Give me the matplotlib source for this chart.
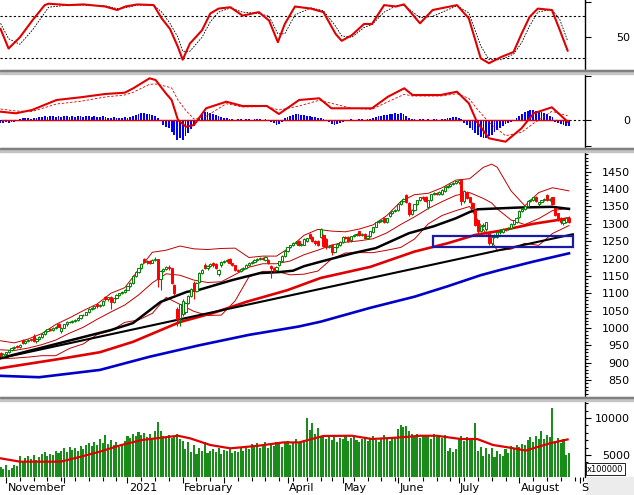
import matplotlib.pyplot as plt
from matplotlib.patches import Rectangle
from matplotlib.transforms import blended_transform_factory
import pandas as pd

# trading calendar, HOSE holidays removed
holidays = ['2021-01-01', '2021-02-10', '2021-02-11', '2021-02-12', '2021-02-15', '2021-02-16',
            '2021-04-21', '2021-04-30', '2021-05-03', '2021-09-02', '2021-09-03']
days = pd.bdate_range('2020-10-29', '2021-09-10')
days = days[~days.isin(pd.to_datetime(holidays))]

opens = [928, 920, 925, 930, 935, 942, 947, 944, 966, 958,
         963, 967, 978, 962, 968, 975, 982, 992, 997, 994,
         1000, 1012, 990, 1001, 1010, 1017, 1018, 1020, 1024, 1030,
         1036, 1038, 1045, 1055, 1058, 1068, 1062, 1066, 1090, 1082,
         1090, 1074, 1085, 1095, 1100, 1104, 1110, 1120, 1130, 1150,
         1162, 1172, 1200, 1190, 1193, 1188, 1197, 1198, 1140, 1165,
         1170, 1176, 1172, 1124, 1055, 1030, 1040, 1045, 1072, 1092,
         1130, 1106, 1132, 1158, 1182, 1172, 1178, 1188, 1184, 1155,
         1180, 1190, 1192, 1198, 1186, 1180, 1168, 1165, 1170, 1172,
         1182, 1188, 1190, 1196, 1200, 1202, 1196, 1196, 1178, 1174,
         1168, 1180, 1192, 1206, 1222, 1232, 1238, 1245, 1250, 1240,
         1240, 1250, 1272, 1262, 1250, 1250, 1262, 1268, 1255, 1232,
         1238, 1220, 1232, 1238, 1248, 1262, 1262, 1252, 1264, 1268,
         1278, 1268, 1270, 1258, 1264, 1276, 1292, 1304, 1308, 1318,
         1306, 1322, 1332, 1336, 1340, 1356, 1366, 1382, 1360, 1328,
         1340, 1356, 1368, 1376, 1378, 1348, 1368, 1385, 1390, 1386,
         1386, 1395, 1406, 1410, 1415, 1418, 1420, 1425, 1365, 1392,
         1376, 1360, 1340, 1310, 1280, 1295, 1284, 1275, 1246, 1262,
         1262, 1276, 1276, 1286, 1284, 1288, 1300, 1306, 1320, 1338,
         1342, 1352, 1366, 1368, 1376, 1356, 1362, 1368, 1382, 1368,
         1376, 1345, 1330, 1318, 1302, 1306, 1318]
highs = [930, 927, 932, 937, 944, 948, 950, 953, 968, 965,
         968, 969, 982, 970, 977, 984, 994, 998, 1000, 1002,
         1006, 1014, 1003, 1012, 1019, 1021, 1023, 1026, 1032, 1038,
         1041, 1047, 1057, 1060, 1064, 1070, 1069, 1080, 1093, 1090,
         1092, 1087, 1097, 1102, 1106, 1112, 1122, 1132, 1152, 1164,
         1174, 1187, 1202, 1195, 1196, 1199, 1203, 1200, 1168, 1173,
         1178, 1180, 1174, 1128, 1060, 1070, 1082, 1076, 1095, 1115,
         1134, 1133, 1160, 1170, 1186, 1181, 1188, 1191, 1186, 1170,
         1193, 1195, 1199, 1201, 1188, 1182, 1170, 1173, 1175, 1184,
         1190, 1193, 1198, 1202, 1205, 1204, 1206, 1198, 1180, 1177,
         1178, 1194, 1210, 1224, 1234, 1240, 1247, 1250, 1252, 1245,
         1258, 1260, 1275, 1264, 1252, 1253, 1288, 1270, 1258, 1240,
         1241, 1234, 1244, 1250, 1265, 1265, 1264, 1266, 1270, 1275,
         1280, 1275, 1273, 1268, 1280, 1292, 1306, 1310, 1314, 1321,
         1318, 1334, 1338, 1342, 1358, 1368, 1375, 1386, 1363, 1343,
         1358, 1370, 1378, 1379, 1380, 1370, 1387, 1391, 1393, 1395,
         1400, 1408, 1412, 1417, 1420, 1424, 1428, 1427, 1398, 1394,
         1378, 1362, 1342, 1312, 1298, 1302, 1306, 1278, 1265, 1271,
         1278, 1284, 1288, 1289, 1290, 1302, 1312, 1320, 1340, 1345,
         1353, 1368, 1373, 1378, 1379, 1364, 1370, 1375, 1385, 1375,
         1378, 1347, 1332, 1321, 1313, 1319, 1322]
lows = [916, 917, 922, 927, 933, 939, 941, 942, 955, 955,
        960, 961, 960, 958, 965, 972, 980, 988, 990, 991,
        997, 1002, 984, 999, 1007, 1013, 1015, 1017, 1021, 1027,
        1033, 1036, 1043, 1051, 1055, 1058, 1059, 1064, 1079, 1078,
        1055, 1071, 1083, 1092, 1097, 1101, 1108, 1118, 1128, 1147,
        1159, 1170, 1186, 1184, 1185, 1186, 1194, 1118, 1110, 1162,
        1167, 1168, 1126, 1096, 1005, 1005, 1035, 1040, 1070, 1090,
        1082, 1103, 1129, 1155, 1169, 1168, 1175, 1177, 1171, 1150,
        1177, 1186, 1189, 1183, 1178, 1165, 1160, 1162, 1166, 1170,
        1179, 1185, 1187, 1193, 1197, 1195, 1194, 1185, 1145, 1162,
        1165, 1178, 1190, 1204, 1219, 1229, 1235, 1242, 1237, 1236,
        1238, 1247, 1255, 1247, 1240, 1237, 1260, 1232, 1228, 1229,
        1210, 1216, 1229, 1235, 1246, 1255, 1247, 1249, 1261, 1265,
        1265, 1265, 1257, 1255, 1262, 1274, 1290, 1301, 1305, 1303,
        1303, 1320, 1329, 1333, 1338, 1353, 1363, 1359, 1322, 1325,
        1337, 1353, 1365, 1370, 1364, 1344, 1366, 1382, 1383, 1383,
        1383, 1392, 1403, 1407, 1412, 1414, 1416, 1355, 1360, 1371,
        1359, 1342, 1294, 1272, 1276, 1290, 1280, 1240, 1236, 1258,
        1259, 1272, 1273, 1280, 1281, 1285, 1297, 1303, 1317, 1335,
        1339, 1349, 1363, 1365, 1363, 1352, 1359, 1365, 1366, 1365,
        1353, 1323, 1309, 1300, 1298, 1302, 1302]
closes = [920, 925, 930, 935, 942, 946, 944, 951, 958, 963,
          966, 964, 962, 968, 975, 982, 992, 996, 994, 1000,
          1003, 1004, 1000, 1010, 1017, 1018, 1020, 1024, 1030, 1036,
          1038, 1045, 1055, 1058, 1062, 1062, 1066, 1078, 1082, 1088,
          1074, 1085, 1095, 1100, 1104, 1110, 1120, 1130, 1150, 1162,
          1172, 1185, 1190, 1192, 1188, 1197, 1200, 1140, 1165, 1170,
          1176, 1172, 1130, 1100, 1025, 1068, 1078, 1072, 1092, 1112,
          1106, 1130, 1158, 1168, 1172, 1178, 1185, 1180, 1174, 1168,
          1190, 1192, 1196, 1186, 1182, 1168, 1165, 1170, 1172, 1182,
          1188, 1190, 1196, 1200, 1202, 1198, 1204, 1188, 1172, 1168,
          1176, 1192, 1208, 1222, 1232, 1238, 1245, 1248, 1240, 1242,
          1256, 1258, 1258, 1250, 1245, 1240, 1285, 1235, 1232, 1236,
          1218, 1232, 1242, 1248, 1262, 1258, 1250, 1264, 1268, 1272,
          1268, 1272, 1260, 1266, 1278, 1290, 1304, 1308, 1312, 1306,
          1316, 1332, 1336, 1340, 1356, 1366, 1372, 1362, 1328, 1340,
          1356, 1368, 1376, 1374, 1366, 1368, 1385, 1388, 1386, 1392,
          1398, 1406, 1410, 1415, 1418, 1422, 1426, 1365, 1395, 1374,
          1362, 1345, 1298, 1278, 1295, 1298, 1304, 1246, 1262, 1268,
          1276, 1280, 1286, 1284, 1286, 1300, 1310, 1318, 1338, 1342,
          1350, 1366, 1370, 1376, 1366, 1362, 1368, 1372, 1368, 1372,
          1356, 1326, 1312, 1305, 1310, 1316, 1306]
volumes = [3400, 3100, 3600, 3000, 3300, 3700, 3500,
           4800, 4200, 4600, 4900, 4400, 5000, 4300,
           4700, 5100, 5400, 4800, 5200, 5000, 5500, 5300, 5600,
           5900, 5400, 6100, 5700, 6000, 5500, 6200, 5800, 6400, 6600,
           6200, 6800, 6400, 7100, 6600, 7700, 6500, 7000,
           6300, 6700, 6100, 6500, 6900,
           7600, 7300, 7900, 7500, 8100, 7700, 8000, 7400, 7800, 7300, 8200,
           9500,
           8300, 7600, 7400, 7700, 7300, 7500, 7900, 7200,
           6900, 5800, 6800, 5400, 6300, 5100, 5900, 5600, 6800, 5300, 5500,
           5800, 5400, 5900, 5200, 5700, 5500, 5800, 5300, 5600, 5400, 5900, 5500,
           6200, 5800, 6500, 6100, 6600, 6000, 6300, 6700, 5900, 6400, 6200, 6800, 6500, 6100,
           6600, 6900, 6400, 6800, 7100, 6600, 6900, 7000,
           9950, 8400, 9300, 7800, 8600, 7400,
           7600, 7200, 7700, 7000, 7400, 6800, 7300, 7100,
           7500, 6900, 7300, 7600, 7000, 6800, 7200, 7400, 6900, 7100,
           7500, 7000, 6800, 7300, 7700, 7200, 6900, 7100, 7400,
           8500, 9100, 8800, 8900, 8300,
           7900, 7400, 7800, 7300, 7600, 7500, 7700, 7200, 7900, 7400, 7600, 7300, 7700,
           5600, 6000, 5400, 5800,
           7200, 7500, 6900, 7400, 7100, 7300,
           9300,
           5600, 6100, 4800, 5900, 5200, 6000, 4700, 5500, 5100, 4900, 5800, 5300,
           6200, 5900, 6400, 6100, 6500, 6300,
           7000, 7400, 6800, 7600, 7200, 8300, 7100, 7700, 7400,
           11400,
           6900, 7300, 6600, 7100, 5000, 5300]
macd_hist = [-3, -3, -2, -3, -2, -2, -1,
             1, 2, 2, 2, 1, 2, 2, 3,
             3, 4, 3, 4, 4, 3, 4, 3, 4, 4, 3, 4, 3, 4, 4,
             3, 4, 4, 3, 4, 3, 3, 4, 3, 2, 2, 3, 2, 2, 2, 3, 2,
             3, 4, 5, 6, 7, 7, 6, 6, 5, 4,
             2, -1,
             -5, -7, -8, -12, -15, -20, -18,
             -20, -16, -13, -9, -6, -3, 2,
             6, 8, 8, 7, 6, 5, 4, 3, 2, 2,
             1, 1, 0, 1, 1, 0, 1, 1, 0, 1, 1, 1, 0, 1, 0,
             -2, -3, -5, -4, -2,
             2, 3, 4, 5, 6, 6, 5, 5, 4, 4, 3, 3, 2, 2, 1,
             -1, -2, -4, -5, -4, -3, -2,
             -1, 0, 1, 0, -1, 1, 1, 0, 1, 1, 2,
             3, 4, 4, 5, 5, 6, 6, 7, 6, 7, 6, 4, 2, 1,
             1, 0, 1, 1, 0, 1, 0, 1, 1, 0, 1, 1, 2,
             2, 3, 3, 2, 1,
             -3, -5, -8, -10, -13, -15, -17, -18, -18, -16, -15, -12, -10, -8, -6, -4, -3, -2, -1,
             2, 4, 6, 8, 9, 10, 10, 9, 9, 8, 7, 6, 4, 3,
             -2, -3, -4, -5, -6, -6]

macd_idx = [0, 5.6, 11.4, 20.3, 29, 37.9, 45, 48.1, 54, 56.2, 59.9, 62, 64.3, 67.2, 70.1, 74.5,
            81.8, 87.7, 96.5, 100.9, 108.2, 115.5, 119.9, 127.3, 134.6, 140.4, 146.3, 149.3,
            159.5, 165.4, 169.7, 172.6, 177, 183, 188.8, 193.2, 199.8, 205.5]
macd_line = [8.3, 6.7, 10, 20, 22.7, 26, 27.3, 31.7, 41.7, 40, 26.7, 20, 0, -6.7, -5, 11.7,
             18.3, 14, 14, 6, 20, 21.7, 11.7, 11.7, 11.7, 23.3, 31.7, 25,
             25, 28.3, 16.7, -1.7, -18.3, -21.7, -8.3, 6.7, 12.7, -1.7]
macd_signal = [11, 9, 8.5, 16, 18.7, 23, 25, 27.7, 35.7, 36, 33.7, 32, 20, 9.3, 1, 3.7,
               16.3, 13, 13.5, 10, 14, 19.7, 16.7, 11.7, 10.7, 18.3, 25.7, 24,
               24, 26.3, 21.7, 11.3, -2.3, -15.7, -12.3, -3.3, 8.7, 4.3]

stoch_idx = [0, 2.9, 7, 11.5, 16, 17.4, 24.7, 30, 37.9, 42.3, 45.2, 49.6, 55.5, 58.4, 61.4,
             64.3, 66, 68.6, 73, 76, 79, 83.3, 87.7, 93.6, 97.3, 100.5, 103, 106.7, 112.5,
             117, 121.4, 123.6, 127.3, 131.7, 134.6, 139, 143.3, 146.2, 152, 156.6, 165.4,
             169.7, 174, 177, 181.5, 185.9, 188.8, 191.7, 194.7, 199.8, 202.7, 205.5]
stoch_k = [62, 34, 50, 74, 96, 98, 96, 97, 94, 89, 94, 97, 96, 77, 62,
           36, 18, 41, 60, 84, 91, 93, 81, 86, 74, 43, 69, 94, 91,
           86, 55, 45, 53, 69, 69, 96, 94, 97, 70, 89, 96,
           77, 20, 13, 22, 29, 55, 79, 91, 89, 60, 31]
stoch_d = [70, 48, 40, 60, 85, 93, 96, 96, 95, 91, 92, 96, 96, 86, 70,
           50, 30, 30, 50, 72, 86, 92, 86, 84, 80, 55, 55, 82, 92,
           88, 66, 52, 50, 64, 68, 86, 95, 96, 78, 80, 95,
           85, 38, 18, 18, 26, 42, 66, 86, 90, 75, 45]

bb_idx = [0, 5, 10, 15, 20, 25, 30, 35, 40, 45, 50, 55, 60, 65, 70, 75, 80, 85, 90, 95, 100,
          105, 110, 115, 120, 125, 130, 135, 140, 145, 150, 155, 160, 165, 170, 175, 178,
          180, 185, 190, 195, 200, 206]
bb_mid = [937, 935, 942, 952, 965, 985, 1002, 1025, 1046, 1066, 1095, 1130, 1156, 1152, 1138,
          1131, 1133, 1154, 1175, 1185, 1185, 1193, 1211, 1224, 1239, 1247, 1251, 1257, 1274,
          1298, 1320, 1344, 1364, 1382, 1390, 1373, 1360, 1343, 1311, 1298, 1315, 1338, 1345]
bb_upper = [963, 957, 968, 984, 1010, 1029, 1050, 1069, 1100, 1116, 1167, 1218, 1224, 1236, 1228,
            1226, 1229, 1230, 1203, 1207, 1207, 1233, 1267, 1284, 1279, 1277, 1285, 1297, 1324,
            1364, 1384, 1388, 1404, 1426, 1430, 1463, 1472, 1463, 1395, 1352, 1390, 1404, 1395]
bb_lower = [911, 913, 916, 920, 920, 941, 954, 981, 992, 1016, 1023, 1042, 1088, 1068, 1048,
            1036, 1037, 1078, 1147, 1163, 1163, 1153, 1155, 1164, 1199, 1216, 1217, 1217, 1224,
            1232, 1256, 1300, 1324, 1338, 1350, 1283, 1250, 1223, 1227, 1244, 1238, 1272, 1295]

ma_black_idx = [0, 40, 48, 58, 67.5, 72, 84, 94, 101, 106, 110, 116, 128, 136, 148, 157, 165,
                170, 173, 188, 200, 206]
ma_black = [913, 994, 1014, 1075, 1104, 1110, 1138, 1158, 1161, 1165, 1178, 1191, 1216, 1230,
            1273, 1293, 1316, 1334, 1342, 1347, 1349, 1343]
ma_red_idx = [0, 24, 36, 48, 65, 77, 89, 104, 116, 134, 150, 162, 172, 181, 193, 206]
ma_red = [884, 914, 930, 960, 1017, 1043, 1075, 1109, 1144, 1176, 1220, 1244, 1268, 1280, 1300, 1316]
ma_blue_idx = [0, 14, 36, 54, 72, 90, 108, 116, 134, 150, 162, 174, 181, 193, 206]
ma_blue = [862, 858, 879, 917, 950, 980, 1004, 1018, 1058, 1090, 1120, 1152, 1167, 1191, 1215]

trend_idx = [0, 207.4]
trend_val = [913, 1270]
box_idx = [156.7, 207.4]
box_val = [1234, 1265]

vol_ma_idx = [0, 7.1, 21.8, 29.1, 36.4, 43.8, 51.1, 58.4, 64.3, 68.7, 76, 83.3, 93.6, 102.4,
              108.2, 117, 127.3, 134.6, 143.4, 152.2, 158, 166.8, 172.7, 178.5, 184.4, 190.3,
              199.1, 205.5]
vol_ma = [4550, 4100, 4100, 4770, 5500, 6350, 7020, 7340, 7600, 7250, 6350, 5900, 6260, 6700,
          6700, 7570, 7600, 7160, 7340, 7600, 7600, 7160, 7160, 6350, 6000, 5600, 6580, 7100]

W, H = 634, 495
plt.switch_backend('agg')
plt.rcParams['font.family'] = 'DejaVu Sans'
plt.rcParams['font.size'] = 8
fig = plt.figure(figsize=(W / 100, H / 100), dpi=100)
fig.patch.set_facecolor('white')

RED = '#e00000'


def panel(top, bottom):
    ax = fig.add_axes([0, 1 - bottom / H, 585 / W, (bottom - top) / H])
    for s in ['left', 'top', 'bottom']:
        ax.spines[s].set_visible(False)
    ax.spines['right'].set_linewidth(1.0)
    ax.yaxis.tick_right()
    ax.tick_params(axis='y', which='major', length=4.3, width=0.8, pad=28, labelsize=8)
    ax.tick_params(axis='y', which='minor', length=2.2, width=0.8)
    ax.set_xticks([])
    ax.set_xlim(-0.2, 211.8)
    return ax


def right_labels(ax):
    for t in ax.get_yticklabels():
        t.set_horizontalalignment('right')


n = len(closes)
xs = list(range(n))

# stochastic
ax1 = panel(0, 70)
ax1.set_ylim(3.3, 103.3)
ax1.axhline(80, color='k', ls=(0, (2, 2)), lw=0.8)
ax1.axhline(20, color='k', ls=(0, (2, 2)), lw=0.8)
ax1.plot(stoch_idx, stoch_d, color='k', ls=(0, (2, 1.5)), lw=0.6)
ax1.plot(stoch_idx, stoch_k, color=RED, lw=1.5)
ax1.set_yticks([50, 100])
ax1.set_yticklabels(['50', ''])
right_labels(ax1)

# macd
ax2 = panel(73, 148)
ax2.set_ylim(-28, 47)
ax2.bar(xs, macd_hist, width=0.65, color='#0000ff')
ax2.axhline(0, color='k', ls=(0, (2, 2)), lw=0.8)
ax2.hlines(0, 0, n - 1, color=RED, lw=1)
ax2.plot(macd_idx, macd_signal, color=RED, ls=(0, (3, 2)), lw=0.6)
ax2.plot(macd_idx, macd_line, color=RED, lw=1.5)
ax2.set_yticks([-26, 0, 44])
ax2.set_yticklabels(['', '0', ''])
right_labels(ax2)

# price
ax3 = panel(152, 397)
ax3.set_ylim(801, 1507)
ax3.set_yticks(range(850, 1451, 50))
ax3.set_yticks(range(810, 1501, 10), minor=True)
right_labels(ax3)
for band in [bb_upper, bb_mid, bb_lower]:
    ax3.plot(bb_idx, band, color='#c00000', lw=0.7)
ax3.plot(ma_blue_idx, ma_blue, color='#0000c8', lw=1.9)
ax3.plot(ma_red_idx, ma_red, color=RED, lw=1.9)
ax3.plot(trend_idx, trend_val, color='k', lw=1.5)
ax3.plot(ma_black_idx, ma_black, color='k', lw=1.8)

cols = ['#008000' if c >= o else '#ff0000' for o, c in zip(opens, closes)]
faces = ['white' if c >= o else '#ff0000' for o, c in zip(opens, closes)]
ax3.vlines(xs, lows, highs, colors=cols, lw=0.8, zorder=3)
ax3.bar(xs, [abs(c - o) for o, c in zip(opens, closes)],
        bottom=[min(o, c) for o, c in zip(opens, closes)],
        width=0.8, color=faces, edgecolor=cols, lw=0.7, zorder=4)
ax3.add_patch(Rectangle((box_idx[0], box_val[0]), box_idx[1] - box_idx[0], box_val[1] - box_val[0],
                        fill=False, edgecolor='#1a1aa8', lw=1.6, zorder=5))

# volume
ax4 = panel(401, 477)
ax4.set_ylim(2028, 12295)
ax4.bar(xs, volumes, width=0.75, color='#1a8c1a')
ax4.plot(vol_ma_idx, vol_ma, color=RED, lw=1.6)
ax4.set_yticks([5000, 10000])
ax4.set_yticks(range(3000, 12001, 1000), minor=True)
right_labels(ax4)

month_pos = [k for k in range(1, len(days)) if days[k].month != days[k - 1].month]
week_pos = [k for k in range(1, len(days)) if days[k].weekday() < days[k - 1].weekday()]
ax4.set_xticks(month_pos)
ax4.set_xticks(week_pos, minor=True)
ax4.tick_params(axis='x', which='major', length=4.3, width=0.8, labelbottom=False)
ax4.tick_params(axis='x', which='minor', length=3, width=0.8)

tr = blended_transform_factory(ax4.transData, ax4.transAxes)
for k in month_pos:
    d = days[k]
    if d.month in (12, 3):
        continue
    if d.month == 1:
        label = str(d.year)
    elif d.month == 9:
        label = 'S'
    else:
        label = d.strftime('%B')
    ax4.text(k + 0.5, -0.145, label, transform=tr, ha='left', va='center', fontsize=8)

fig.text(587 / W, 1 - 469 / H, 'x100000', fontsize=6, ha='left', va='center', zorder=8,
         bbox=dict(boxstyle='square,pad=0.15', fc='white', ec='black', lw=0.6))

# panel splitters and bottom-right corner
for top in [70, 148, 397]:
    fig.add_artist(Rectangle((0, 1 - (top + 3.5) / H), 1, 3.5 / H, transform=fig.transFigure,
                             color='#c4c4c4', zorder=6))
    fig.add_artist(Rectangle((0, 1 - (top + 1) / H), 1, 1 / H, transform=fig.transFigure,
                             color='#808080', zorder=6))
fig.add_artist(Rectangle((587 / W, 0), 1, 18 / H, transform=fig.transFigure,
                         color='#ececec', zorder=-1))

fig.savefig('out.png', dpi=100)
